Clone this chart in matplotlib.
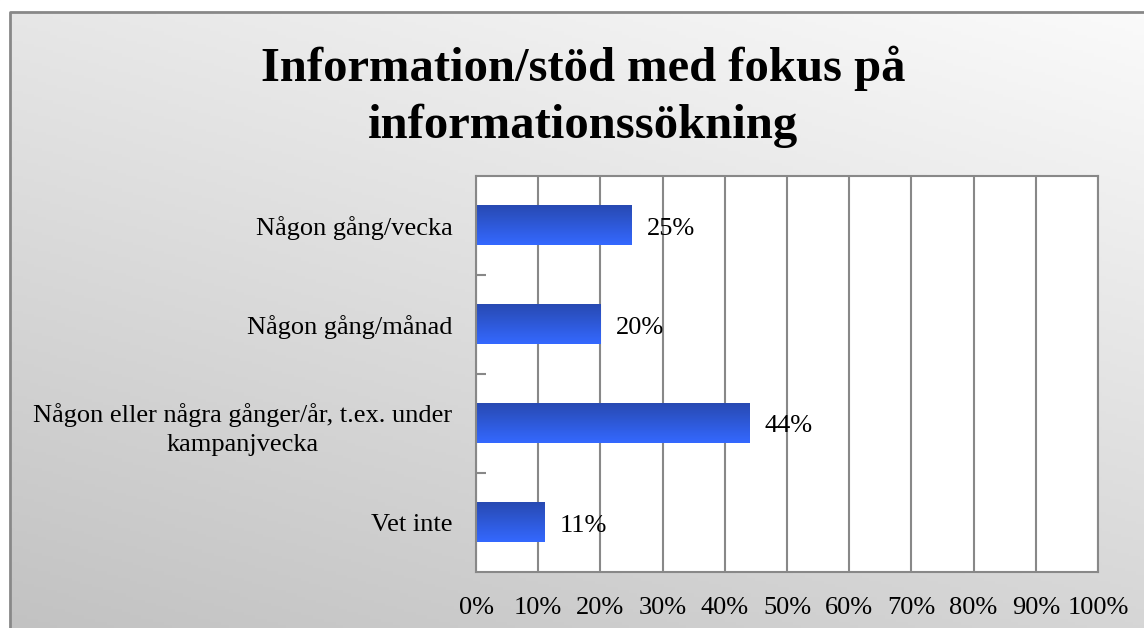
import numpy as np
import matplotlib
matplotlib.use('Agg')
import matplotlib.pyplot as plt
from matplotlib.patches import Rectangle

plt.rcParams['font.family'] = ['Liberation Serif', 'DejaVu Serif']

categories = ['Någon gång/vecka', 'Någon gång/månad',
              'Någon eller några gånger/år, t.ex. under\nkampanjvecka', 'Vet inte']
values = [25, 20, 44, 11]
xticks = [0, 10, 20, 30, 40, 50, 60, 70, 80, 90, 100]
title = 'Information/stöd med fokus på\ninformationssökning'

W, H = 1144, 628
fig = plt.figure(figsize=(W / 100, H / 100), dpi=100)

# background: diagonal grey gradient, dark bottom-left -> light top-right
bg = fig.add_axes([0, 0, 1, 1])
bg.set_axis_off()
xx, yy = np.meshgrid(np.linspace(0, 1, 300), np.linspace(1, 0, 200))
t = 0.35 * xx + 0.65 * yy
shade = (0xc2 + (0xfb - 0xc2) * t) / 255
img = np.dstack([shade, shade, shade])
bg.imshow(img, extent=[0, W, 0, H], aspect='auto', zorder=0)
bg.add_patch(Rectangle((0, 0), 10, H, color='white', zorder=1))
bg.add_patch(Rectangle((0, H - 12), W, 12, color='white', zorder=1))
bg.plot([10, 10, W], [0, H - 12, H - 12], color='#888888', lw=2, zorder=2)
bg.set_xlim(0, W)
bg.set_ylim(0, H)

fig.text(583 / W, 1 - 97 / H, title, ha='center', va='center',
         fontsize=35, fontweight='bold', linespacing=1.35)

ax = fig.add_axes([476 / W, 56 / H, 622 / W, 396 / H])
ax.set_facecolor('white')
y = np.arange(len(categories))
bar_h = 0.4
bars = ax.barh(y, values, height=bar_h, color='none', zorder=2)

# vertical gradient inside bars
top_c = np.array([40, 74, 178]) / 255
bot_c = np.array([52, 104, 255]) / 255
g = np.linspace(0, 1, 64)[:, None]
grad = (top_c * (1 - g) + bot_c * g)[:, None, :]
for b, v, yi in zip(bars, values, y):
    ax.imshow(grad, extent=[0, v, yi + bar_h / 2, yi - bar_h / 2],
              aspect='auto', clip_path=b, clip_on=True, zorder=2)
    ax.annotate(f'{v}%', (v, yi), xytext=(15, -3), textcoords='offset pixels',
                ha='left', va='center', fontsize=19, zorder=1)

ax.set_xlim(0, 100)
ax.set_ylim(len(categories) - 0.5, -0.5)
ax.set_xticks(xticks)
ax.set_xticklabels([f'{v}%' for v in xticks], fontsize=19)
ax.set_yticks(y)
ax.set_yticklabels(categories, fontsize=19)
for lab in ax.get_yticklabels():
    lab.set_multialignment('center')
    lab.set_linespacing(1.4)
ax.set_yticks(np.arange(0.5, len(categories) - 1), minor=True)
ax.tick_params(axis='x', length=0, pad=18)
ax.tick_params(axis='y', which='major', length=0, pad=17)
ax.tick_params(axis='y', which='minor', direction='in', length=7,
               width=1.5, color='#888888')
ax.grid(axis='x', color='#888888', lw=1.5, zorder=0)
ax.set_axisbelow(True)
for s in ax.spines.values():
    s.set_color('#888888')
    s.set_linewidth(1.5)

fig.savefig('out.png', dpi=100)
